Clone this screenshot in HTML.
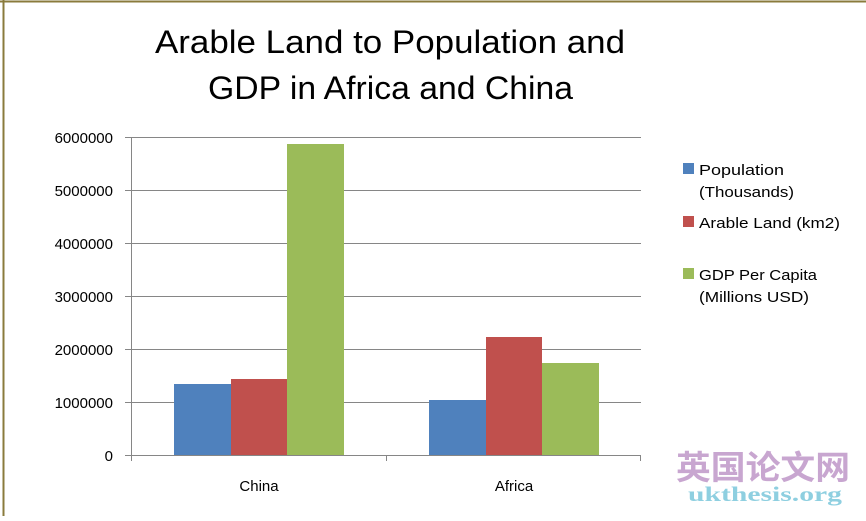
<!DOCTYPE html>
<html><head><style>html,body{margin:0;padding:0;background:#fff;}</style></head>
<body>
<svg width="866" height="516" viewBox="0 0 866 516" xmlns="http://www.w3.org/2000/svg" font-family="Liberation Sans, DejaVu Sans, sans-serif">
<rect width="866" height="516" fill="#fff"/>
<line x1="0" y1="1.5" x2="866" y2="1.5" stroke="#8a7b3c" stroke-width="2"/>
<line x1="3.5" y1="0" x2="3.5" y2="516" stroke="#8a7b3c" stroke-width="2"/>
<text x="155" y="53" font-size="32" textLength="470" lengthAdjust="spacingAndGlyphs" fill="#000">Arable Land to Population and</text>
<text x="208" y="99" font-size="32" textLength="365" lengthAdjust="spacingAndGlyphs" fill="#000">GDP in Africa and China</text>
<g stroke="#868686" stroke-width="1">
<line x1="125" y1="137.5" x2="641" y2="137.5"/>
<line x1="125" y1="190.5" x2="641" y2="190.5"/>
<line x1="125" y1="243.5" x2="641" y2="243.5"/>
<line x1="125" y1="296.5" x2="641" y2="296.5"/>
<line x1="125" y1="349.5" x2="641" y2="349.5"/>
<line x1="125" y1="402.5" x2="641" y2="402.5"/>
<line x1="125" y1="455.5" x2="641" y2="455.5"/>
<line x1="131.5" y1="137" x2="131.5" y2="455"/>
<line x1="131.5" y1="455" x2="131.5" y2="461"/>
<line x1="386.5" y1="455" x2="386.5" y2="461"/>
<line x1="640.5" y1="455" x2="640.5" y2="461"/>
</g>
<g font-size="15" fill="#000" text-anchor="end">
<text x="113" y="143">6000000</text>
<text x="113" y="196">5000000</text>
<text x="113" y="249">4000000</text>
<text x="113" y="302">3000000</text>
<text x="113" y="355">2000000</text>
<text x="113" y="408">1000000</text>
<text x="113" y="461">0</text>
</g>
<rect x="174" y="384" width="57" height="71" fill="#4f81bd"/>
<rect x="231" y="379" width="56" height="76" fill="#c0504d"/>
<rect x="287" y="144" width="57" height="311" fill="#9bbb59"/>
<rect x="429" y="400" width="57" height="55" fill="#4f81bd"/>
<rect x="486" y="337" width="56" height="118" fill="#c0504d"/>
<rect x="542" y="363" width="57" height="92" fill="#9bbb59"/>
<g font-size="15" fill="#000" text-anchor="middle">
<text x="259" y="491">China</text>
<text x="514" y="491">Africa</text>
</g>
<rect x="683" y="163" width="11" height="11" fill="#4f81bd"/>
<rect x="683" y="216" width="11" height="11" fill="#c0504d"/>
<rect x="683" y="268" width="11" height="11" fill="#9bbb59"/>
<g font-size="15" fill="#000">
<text x="699" y="175" textLength="85" lengthAdjust="spacingAndGlyphs">Population</text>
<text x="699" y="197" textLength="95" lengthAdjust="spacingAndGlyphs">(Thousands)</text>
<text x="699" y="228" textLength="141" lengthAdjust="spacingAndGlyphs">Arable Land (km2)</text>
<text x="699" y="280" textLength="118" lengthAdjust="spacingAndGlyphs">GDP Per Capita</text>
<text x="699" y="302" textLength="110" lengthAdjust="spacingAndGlyphs">(Millions USD)</text>
</g>
<text x="676" y="479" font-size="33" font-weight="bold" textLength="174" lengthAdjust="spacingAndGlyphs" fill="#c8a6d0" font-family="Noto Sans CJK SC, WenQuanYi Zen Hei, sans-serif">英国论文网</text>
<text x="688" y="501" font-size="21" font-weight="bold" textLength="154" lengthAdjust="spacingAndGlyphs" fill="#8ecfe0" font-family="Liberation Serif, serif">ukthesis.org</text>
</svg>
</body></html>
